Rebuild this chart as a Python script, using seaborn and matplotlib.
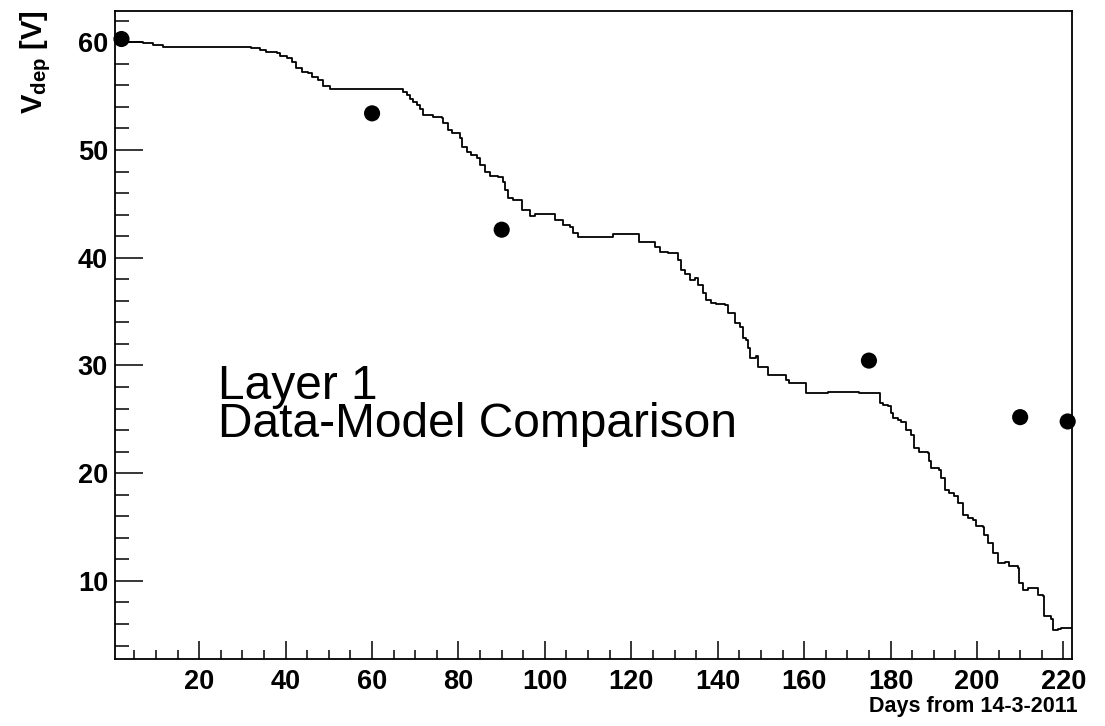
import numpy as np
import pandas as pd
import matplotlib
matplotlib.use("Agg")
import matplotlib.pyplot as plt
from matplotlib.ticker import MultipleLocator
import seaborn as sns

# ---- data: measured points ----
meas_days = [2, 60, 90, 175, 210, 221]
meas_vdep = [60.3, 53.4, 42.6, 30.45, 25.2, 24.8]

# ---- data: model step curve (day where level starts, level value) ----
model_days = [0.5, 7.0, 9.3, 11.6, 32.0, 34.0, 35.4, 37.9, 38.7, 40.2, 41.4, 42.5,
              43.7, 45.2, 46.0, 47.5, 48.7, 50.2, 67.2, 68.0, 68.7, 69.5, 70.3, 71.1,
              71.8, 74.1, 76.1, 76.4, 77.6, 78.4, 80.3, 80.7, 81.9, 83.0, 84.2, 84.9,
              86.1, 87.2, 89.2, 90.3, 90.7, 91.5, 92.6, 94.6, 96.5, 97.7, 102.3, 104.2,
              105.8, 106.5, 107.7, 115.8, 121.8, 125.4, 126.6, 128.5, 130.8, 131.6,
              132.4, 133.5, 134.7, 135.4, 136.6, 137.4, 138.5, 139.7, 141.6, 142.4,
              143.9, 145.1, 145.8, 146.6, 147.0, 147.4, 148.9, 149.3, 151.6, 155.9,
              156.6, 160.5, 165.5, 172.8, 177.5, 178.2, 179.4, 180.2, 180.5, 181.7,
              182.5, 183.6, 184.8, 185.5, 186.7, 188.6, 189.0, 189.4, 191.3, 191.7,
              192.5, 193.6, 194.8, 195.6, 196.7, 197.9, 199.0, 199.8, 201.3, 201.7,
              202.5, 203.7, 204.8, 206.4, 207.5, 209.4, 209.8, 210.6, 211.8, 214.1,
              215.2, 215.6, 217.2, 217.5, 218.7, 219.5, 222.0]
model_vdep = [60.05, 59.90, 59.74, 59.58, 59.42, 59.28, 59.09, 58.97, 58.75, 58.51, 58.19, 57.58,
              57.26, 57.12, 56.80, 56.49, 55.96, 55.66, 55.41, 55.10, 54.73, 54.48, 54.17, 53.80,
              53.25, 53.09, 52.94, 52.48, 51.86, 51.55, 51.09, 50.31, 49.84, 49.54, 49.23, 48.61,
              47.99, 47.59, 47.47, 47.06, 46.29, 45.52, 45.36, 44.43, 43.88, 44.04, 43.51, 43.04,
              42.88, 42.27, 41.96, 42.21, 41.49, 41.03, 40.57, 40.42, 39.80, 38.87,
              38.47, 37.94, 38.10, 37.48, 36.71, 36.09, 35.78, 35.69, 35.62, 34.85,
              33.92, 33.61, 32.53, 32.37, 31.60, 30.68, 30.83, 29.90, 29.13, 28.66,
              28.41, 27.43, 27.58, 27.43, 26.50, 26.35, 26.19, 25.57, 25.11, 24.95,
              24.79, 24.03, 23.56, 22.33, 22.01, 21.86, 21.09, 20.47, 20.32, 19.55,
              18.46, 18.15, 17.84, 17.23, 16.14, 15.84, 15.68, 15.06, 15.00, 14.29,
              13.52, 12.59, 11.66, 11.72, 11.35, 11.20, 9.81, 9.18, 9.34, 8.72,
              8.56, 6.71, 6.47, 5.47, 5.53, 5.62, 5.62]

x_ticks = [20, 40, 60, 80, 100, 120, 140, 160, 180, 200, 220]
y_ticks = [10, 20, 30, 40, 50, 60]

sns.set_style("white")
plt.rcParams["font.family"] = ["Liberation Sans", "DejaVu Sans"]
plt.rcParams["mathtext.fontset"] = "custom"
plt.rcParams["mathtext.rm"] = "Liberation Sans"
plt.rcParams["mathtext.bf"] = "Liberation Sans:bold"
for k in ["text.color", "axes.labelcolor", "xtick.color", "ytick.color", "axes.edgecolor"]:
    plt.rcParams[k] = "black"

W, H = 1105, 726
fig = plt.figure(figsize=(W / 100, H / 100), dpi=100)
ax = fig.add_axes([115 / W, 1 - 659 / H, (1072 - 115) / W, (659 - 11) / H])

model = pd.DataFrame({"day": model_days, "vdep": model_vdep})
meas = pd.DataFrame({"day": meas_days, "vdep": meas_vdep})

sns.lineplot(data=model, x="day", y="vdep", ax=ax, drawstyle="steps-post",
             estimator=None, sort=False, color="black", linewidth=1.3)
sns.scatterplot(data=meas, x="day", y="vdep", ax=ax, color="black", s=135,
                edgecolor="none", clip_on=False, zorder=5)

ax.set_xlim(0.5, 222.0)
ax.set_ylim(2.75, 62.9)
ax.set_xticks(x_ticks)
ax.set_yticks(y_ticks)
ax.xaxis.set_minor_locator(MultipleLocator(5))
ax.yaxis.set_minor_locator(MultipleLocator(2))
ax.tick_params(axis="x", which="major", direction="in", length=13, width=1.1,
               labelsize=19.5, pad=7, bottom=True, top=False, colors="black")
ax.tick_params(axis="x", which="minor", direction="in", length=6.5, width=1.1,
               bottom=True, top=False, colors="black")
ax.tick_params(axis="y", which="major", direction="in", length=20, width=1.1,
               labelsize=19.5, pad=5, left=True, right=False, colors="black")
ax.tick_params(axis="y", which="minor", direction="in", length=10, width=1.1,
               left=True, right=False, colors="black")
for lab in ax.get_xticklabels() + ax.get_yticklabels():
    lab.set_fontweight("bold")
for sp in ax.spines.values():
    sp.set_visible(True)
    sp.set_linewidth(1.3)
    sp.set_color("black")
ax.set_xlabel("")
ax.set_ylabel("")

fig.text(1078 / W, 1 - 712 / H, "Days from 14-3-2011", ha="right", va="baseline",
         fontsize=15.5, fontweight="bold")
fig.text(36 / W, 1 - 10 / H, r"V$_{\mathbf{dep}}$ [V]", rotation=90, ha="center",
         va="top", fontsize=21, fontweight="bold")

fig.text(218 / W, 1 - 437 / H, "Layer 1\nData-Model Comparison", ha="left",
         va="baseline", fontsize=34.5, linespacing=0.81)

fig.savefig("out.png", dpi=100)
